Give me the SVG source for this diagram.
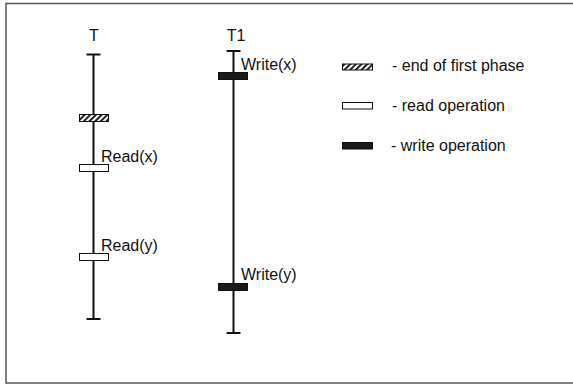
<svg xmlns="http://www.w3.org/2000/svg" width="573" height="389" viewBox="0 0 573 389">
<defs>
<pattern id="hatch" patternUnits="userSpaceOnUse" width="4" height="4" patternTransform="rotate(45)">
<rect width="4" height="4" fill="#ffffff"/>
<rect width="2" height="4" fill="#222222"/>
</pattern>
</defs>
<style>
.txt{font-family:"Liberation Sans",Arial,sans-serif;font-size:16px;fill:#111111}
.ln{stroke:#111111;stroke-width:2;fill:none}
.hb{fill:url(#hatch);stroke:#111111;stroke-width:1}
.rb{fill:#ffffff;stroke:#111111;stroke-width:1}
.wb{fill:#1a1a1a;stroke:#111111;stroke-width:1}
</style>
<rect x="6" y="3.5" width="570" height="379.5" fill="#ffffff" stroke="#555555" stroke-width="1.5"/>
<g id="connectors">
<line class="ln" x1="93.5" y1="54.5" x2="93.5" y2="319"/>
<line class="ln" x1="86.5" y1="54.5" x2="100.5" y2="54.5"/>
<line class="ln" x1="86.5" y1="319" x2="100.5" y2="319"/>
<line class="ln" x1="233.5" y1="51" x2="233.5" y2="333"/>
<line class="ln" x1="226.5" y1="51" x2="240.5" y2="51"/>
<line class="ln" x1="226.5" y1="333" x2="240.5" y2="333"/>
</g>
<g id="T-label"><text class="txt" x="94" y="41" text-anchor="middle">T</text></g>
<g id="T1-label"><text class="txt" x="236" y="41" text-anchor="middle">T1</text></g>
<g id="T-end-first-phase"><rect class="hb" x="79.5" y="114.5" width="29" height="7"/></g>
<g id="T-read-x"><rect class="rb" x="79.5" y="164.5" width="29" height="7"/><text class="txt" x="101" y="162">Read(x)</text></g>
<g id="T-read-y"><rect class="rb" x="79.5" y="253.5" width="29" height="7"/><text class="txt" x="101" y="251">Read(y)</text></g>
<g id="T1-write-x"><rect class="wb" x="218.5" y="72.5" width="29" height="7"/><text class="txt" x="241" y="70">Write(x)</text></g>
<g id="T1-write-y"><rect class="wb" x="218.5" y="283.5" width="29" height="7"/><text class="txt" x="241" y="280">Write(y)</text></g>
<g id="legend-hatch"><rect class="hb" x="342.5" y="64" width="30" height="6"/><text class="txt" x="392" y="71">- end of first phase</text></g>
<g id="legend-read"><rect class="rb" x="342.5" y="102.5" width="30" height="6.5"/><text class="txt" x="392" y="111">- read operation</text></g>
<g id="legend-write"><rect class="wb" x="342.5" y="142.5" width="30" height="6.5"/><text class="txt" x="391" y="151">- write operation</text></g>
</svg>
